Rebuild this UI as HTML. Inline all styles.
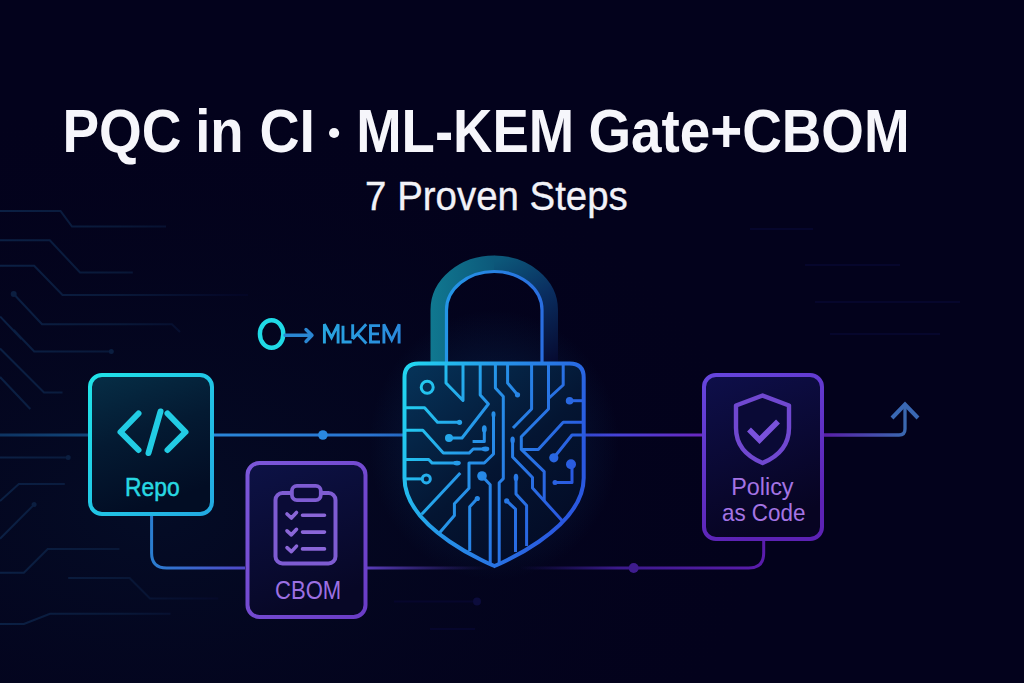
<!DOCTYPE html>
<html><head><meta charset="utf-8">
<style>
html,body{margin:0;padding:0;background:#03021c;width:1024px;height:683px;overflow:hidden}
svg{display:block}
text{font-family:"Liberation Sans",sans-serif}
</style></head>
<body>
<svg width="1024" height="683" viewBox="0 0 1024 683">
<defs>
  <radialGradient id="bgL" cx="0.15" cy="0.75" r="0.6">
    <stop offset="0" stop-color="#040c26"/>
    <stop offset="1" stop-color="#04031b" stop-opacity="0"/>
  </radialGradient>
  <radialGradient id="glowLock" cx="0.5" cy="0.5" r="0.5">
    <stop offset="0" stop-color="#0a3a6a" stop-opacity="0.55"/>
    <stop offset="1" stop-color="#0a3a6a" stop-opacity="0"/>
  </radialGradient>
  <linearGradient id="repoStroke" x1="0" y1="0" x2="1" y2="1">
    <stop offset="0" stop-color="#20e4e8"/>
    <stop offset="1" stop-color="#22a8e2"/>
  </linearGradient>
  <linearGradient id="repoFill" x1="0" y1="0" x2="0.3" y2="1">
    <stop offset="0" stop-color="#062e46"/>
    <stop offset="0.5" stop-color="#041a32"/>
    <stop offset="1" stop-color="#020d24"/>
  </linearGradient>
  <linearGradient id="cbomStroke" x1="0" y1="0" x2="1" y2="1">
    <stop offset="0" stop-color="#7c58da"/>
    <stop offset="1" stop-color="#6a3cc6"/>
  </linearGradient>
  <linearGradient id="cbomFill" x1="0" y1="0" x2="0.3" y2="1">
    <stop offset="0" stop-color="#0d1246"/>
    <stop offset="1" stop-color="#070726"/>
  </linearGradient>
  <linearGradient id="polStroke" x1="0" y1="0" x2="0.35" y2="1">
    <stop offset="0" stop-color="#6646de"/>
    <stop offset="1" stop-color="#5c22b4"/>
  </linearGradient>
  <linearGradient id="polFill" x1="0" y1="0" x2="0.3" y2="1">
    <stop offset="0" stop-color="#0e0f4a"/>
    <stop offset="1" stop-color="#070422"/>
  </linearGradient>
  <linearGradient id="lockG" gradientUnits="userSpaceOnUse" x1="404" y1="390" x2="584" y2="450">
    <stop offset="0" stop-color="#22d4f0"/>
    <stop offset="0.45" stop-color="#2692e8"/>
    <stop offset="1" stop-color="#2a58e0"/>
  </linearGradient>
  <linearGradient id="lockFill" gradientUnits="userSpaceOnUse" x1="404" y1="363" x2="560" y2="560">
    <stop offset="0" stop-color="#06345a"/>
    <stop offset="0.55" stop-color="#041532"/>
    <stop offset="1" stop-color="#030a24"/>
  </linearGradient>
  <linearGradient id="shackBand" gradientUnits="userSpaceOnUse" x1="430" y1="0" x2="561" y2="0">
    <stop offset="0" stop-color="#0f7088"/>
    <stop offset="0.5" stop-color="#0c4a70"/>
    <stop offset="1" stop-color="#0a2050"/>
  </linearGradient>
  <linearGradient id="shackLine" gradientUnits="userSpaceOnUse" x1="446" y1="0" x2="542" y2="0">
    <stop offset="0" stop-color="#2496e6"/>
    <stop offset="1" stop-color="#2a6ee0"/>
  </linearGradient>
  <linearGradient id="lineTop1" gradientUnits="userSpaceOnUse" x1="214" y1="0" x2="403" y2="0">
    <stop offset="0" stop-color="#2a86d8"/>
    <stop offset="1" stop-color="#2a70d0"/>
  </linearGradient>
  <linearGradient id="lineTop2" gradientUnits="userSpaceOnUse" x1="585" y1="0" x2="702" y2="0">
    <stop offset="0" stop-color="#3a4ce0"/>
    <stop offset="1" stop-color="#6a28c0"/>
  </linearGradient>
  <linearGradient id="lineTop3" gradientUnits="userSpaceOnUse" x1="824" y1="0" x2="905" y2="0">
    <stop offset="0" stop-color="#5a1ea8"/>
    <stop offset="1" stop-color="#3a68b0"/>
  </linearGradient>
  <linearGradient id="lineLeft" gradientUnits="userSpaceOnUse" x1="0" y1="0" x2="88" y2="0">
    <stop offset="0" stop-color="#0e3462"/>
    <stop offset="1" stop-color="#114478"/>
  </linearGradient>
  <linearGradient id="lineBotL" gradientUnits="userSpaceOnUse" x1="150" y1="0" x2="245" y2="0">
    <stop offset="0" stop-color="#2a7ed0"/>
    <stop offset="1" stop-color="#5048c8"/>
  </linearGradient>
  <linearGradient id="lineBotM" gradientUnits="userSpaceOnUse" x1="367" y1="0" x2="490" y2="0">
    <stop offset="0" stop-color="#5a3cba"/>
    <stop offset="1" stop-color="#3a2a90" stop-opacity="0"/>
  </linearGradient>
  <linearGradient id="lineBotR" gradientUnits="userSpaceOnUse" x1="520" y1="0" x2="764" y2="0">
    <stop offset="0" stop-color="#2a1a80" stop-opacity="0"/>
    <stop offset="0.4" stop-color="#3c1a8c"/>
    <stop offset="1" stop-color="#5a1cac"/>
  </linearGradient>
  <linearGradient id="bgLine" gradientUnits="userSpaceOnUse" x1="0" y1="0" x2="240" y2="0">
    <stop offset="0" stop-color="#0b2044"/>
    <stop offset="0.5" stop-color="#091838"/>
    <stop offset="1" stop-color="#040626"/>
  </linearGradient>
  <linearGradient id="mlkemG" gradientUnits="userSpaceOnUse" x1="322" y1="0" x2="400" y2="0">
    <stop offset="0" stop-color="#28a6e0"/>
    <stop offset="1" stop-color="#2a88dc"/>
  </linearGradient>
  <linearGradient id="shackBandL" gradientUnits="userSpaceOnUse" x1="430" y1="0" x2="495" y2="0">
    <stop offset="0" stop-color="#107890"/>
    <stop offset="1" stop-color="#0c587a"/>
  </linearGradient>
  <linearGradient id="shackBandR" gradientUnits="userSpaceOnUse" x1="494" y1="262" x2="556" y2="362">
    <stop offset="0" stop-color="#0c587a"/>
    <stop offset="0.45" stop-color="#0a2e60"/>
    <stop offset="1" stop-color="#060a30"/>
  </linearGradient>
  <filter id="soft" x="-50%" y="-50%" width="200%" height="200%"><feGaussianBlur stdDeviation="0.4"/></filter>
  <filter id="blur8" x="-50%" y="-50%" width="200%" height="200%"><feGaussianBlur stdDeviation="10"/></filter>
</defs>

<rect width="1024" height="683" fill="#03021c"/>
<rect width="1024" height="683" fill="url(#bgL)"/>

<!-- background faint circuits -->
<g fill="none" stroke="url(#bgLine)" stroke-width="2">
  <path d="M0 211 H60.5 L72 226.6 H166"/>
  <path d="M0 240.3 H49.8 L80 272.5 H132.8"/>
  <path d="M0 265.7 H34.2 L62.5 295 H248"/>
  <path d="M13.7 294 L42 324.3 H171.9 L180 332"/>
  <path d="M0 316.4 L21.5 339"/>
  <path d="M13.7 330 L34.2 351.5 H111.3"/>
  <path d="M0 348.5 L44 392.5 H62.5"/>
  <path d="M0 377 L30.3 409"/>
  <path d="M0 457.5 H68.2"/>
  <path d="M0 501 L18.8 484 H64.8"/>
  <path d="M0 538.7 L34.1 504.6"/>
  <path d="M0 572.8 H23.9 L47.7 549 H119.4"/>
  <path d="M68.2 578 H129.6 L150 598.4 H218.3"/>
  <path d="M0 624 H23.9 L50 613.7 H170.5"/>
</g>
<g fill="#0b1e40">
  <circle cx="13.7" cy="294" r="3"/>
  <circle cx="111.3" cy="351.5" r="2.5"/>
  <circle cx="68.2" cy="457.5" r="2.5"/>
  <circle cx="34.1" cy="504.6" r="2.5"/>
</g>

<!-- faint extras -->
<g fill="none" stroke="#06062c" stroke-width="2">
  <path d="M394 601.5 H477"/>
  <path d="M430 629 H475"/>
  <path d="M750 229 H813"/>
  <path d="M805 265 H900"/>
  <path d="M815 302 H960"/>
  <path d="M830 334 H940"/>
</g>
<circle cx="477" cy="601.5" r="4" fill="#0c0c3c"/>
<!-- Title -->
<g fill="#f6f6fb" font-size="61" font-weight="bold">
<text transform="translate(62.4 152) scale(0.9 1)">PQC</text>
<text transform="translate(195.2 152) scale(0.894 1)">in</text>
<text transform="translate(259.5 152) scale(0.909 1)">CI</text>
<text transform="translate(356.2 152) scale(0.894 1)">ML-KEM</text>
<text transform="translate(588.5 152) scale(0.898 1)">Gate+CBOM</text>
</g>
<circle cx="334.1" cy="133" r="5.1" fill="#f6f6fb"/>
<text transform="translate(365.1 209.7) scale(0.926 1)" font-size="41.5" fill="#f2f2f8" stroke="#f2f2f8" stroke-width="0.35">7 Proven Steps</text>
<!-- key icon -->
<ellipse cx="271.6" cy="334" rx="11.7" ry="13.8" fill="none" stroke="#20dae6" stroke-width="4.4"/>
<path d="M285 335.3 H311 M306 329.5 L312 335.3 L306 341.5" fill="none" stroke="#2a86d2" stroke-width="3.4" stroke-linecap="round" stroke-linejoin="round"/>
<g fill="none" stroke="url(#mlkemG)" stroke-width="2.9" stroke-linejoin="miter">
<path d="M324.4 343.4 V324.3 L331.5 337.5 L338.1 324.3 V343.4"/>
<path d="M343 325.8 V342 H351.7"/>
<path d="M352.7 324.3 V339 M352.7 339 L366.2 324.3 M357 333.5 L366.4 343.4"/>
<path d="M380 325.6 H370.5 V342 H380 M370.5 333.9 H379"/>
<path d="M383.9 343.4 V324.3 L391.7 340 L399.1 324.3 V343.4"/>
</g>

<!-- connectors -->
<path d="M0 435 H88" stroke="url(#lineLeft)" stroke-width="3" fill="none"/>
<path d="M214 435 H403" stroke="url(#lineTop1)" stroke-width="3" fill="none"/>
<circle cx="322.9" cy="435" r="4.8" fill="#2a88e0"/>
<path d="M585 435 H702" stroke="url(#lineTop2)" stroke-width="3" fill="none"/>
<path d="M824 435 H899 Q905 435 905 429 V405" stroke="url(#lineTop3)" stroke-width="3.3" fill="none"/>
<path d="M892 418 L905 404.5 L918 418" stroke="#3a68b4" stroke-width="4" fill="none"/>
<path d="M151.6 516 V553 Q151.6 568 166.6 568 H245" stroke="url(#lineBotL)" stroke-width="3" fill="none"/>
<path d="M367 568 H490" stroke="url(#lineBotM)" stroke-width="3" fill="none"/>
<path d="M520 568 H748.7 Q763.7 568 763.7 553 V541" stroke="url(#lineBotR)" stroke-width="3" fill="none"/>
<circle cx="633.7" cy="568" r="5" fill="#3e1c8e"/>

<!-- Repo box -->
<rect x="90" y="375" width="122" height="139" rx="12" fill="url(#repoFill)" stroke="url(#repoStroke)" stroke-width="4"/>
<path d="M138.5 413.5 L120.5 432 L138.5 450 M167.5 413.5 L185.5 432 L167.5 450 M160.5 411.5 L148.5 453" fill="none" stroke="#22cce4" stroke-width="6" stroke-linecap="round" stroke-linejoin="round"/>
<text transform="translate(125.1 495.6) scale(0.886 1)" font-size="25.8" fill="#28d8e2" stroke="#28d8e2" stroke-width="0.5">Repo</text>

<!-- CBOM box -->
<rect x="247.5" y="463" width="118" height="154" rx="12" fill="url(#cbomFill)" stroke="url(#cbomStroke)" stroke-width="4"/>
<rect x="275.5" y="493" width="60" height="70.5" rx="7" fill="#0a0b36" stroke="#7e5cd2" stroke-width="4"/>
<rect x="291.9" y="485.8" width="28.9" height="14.3" rx="5" fill="#0a0b36" stroke="#7e5cd2" stroke-width="3.8"/>
<g fill="none" stroke="#8a66d8" stroke-width="3.6" stroke-linecap="round" stroke-linejoin="round">
  <path d="M287 514 L291.4 518 L296.5 512.5 M302.5 515.3 H324.5"/>
  <path d="M287 530.8 L291.4 534.8 L296.5 529.3 M302.5 532.1 H324.5"/>
  <path d="M287 547.6 L291.4 551.6 L296.5 546.1 M302.5 548.9 H324.5"/>
</g>
<text transform="translate(275 599.4) scale(0.85 1)" font-size="26" fill="#9c70e2">CBOM</text>

<!-- Policy box -->
<rect x="704" y="375" width="118" height="164" rx="12" fill="url(#polFill)" stroke="url(#polStroke)" stroke-width="4"/>
<path d="M762.6 395.5 L789 405.5 V428 Q789 452 762.6 463 Q736 452 736 428 V405.5 Z" fill="#0a0a36" stroke="#7048d0" stroke-width="4.4" stroke-linejoin="round"/>
<path d="M749 429.5 L759.5 440 L778 421.5" fill="none" stroke="#7a52dc" stroke-width="5.5"/>
<text transform="translate(731.2 494.9) scale(0.943 1)" font-size="24.8" fill="#a474e4">Policy</text>
<text transform="translate(721.9 520.8) scale(0.905 1)" font-size="24.8" fill="#a474e4">as Code</text>

<!-- lock glow -->
<ellipse cx="494" cy="445" rx="125" ry="135" fill="url(#glowLock)"/>

<!-- shackle -->
<path d="M438.5 363 V310 A55.75 46.5 0 0 1 494.25 263.5" fill="none" stroke="url(#shackBandL)" stroke-width="16"/>
<path d="M494 263.5 A55.75 46.5 0 0 1 550 310 V363" fill="none" stroke="url(#shackBandR)" stroke-width="16"/>
<path d="M446.5 363 V310 A47.75 38.5 0 0 1 542 310 V363" fill="none" stroke="url(#shackLine)" stroke-width="3.2"/>

<!-- lock body -->
<path id="body" d="M418.5 363.5 H569.7 Q583.7 363.5 583.7 377.5 V478 C583.7 530 494.5 566 494.5 566 C494.5 566 404.5 530 404.5 478 V377.5 Q404.5 363.5 418.5 363.5 Z" fill="url(#lockFill)" stroke="url(#lockG)" stroke-width="4"/>

<g fill="none" stroke="url(#lockG)" stroke-width="3" stroke-linejoin="round">
  <path d="M446 363 V383 L463 400.5 V363"/>
  <path d="M480.2 363 V395 L488.4 404 L462 438 H449"/>
  <path d="M495.4 363 V388 L503.3 396.6 V478.6 L499.2 482.7 V563"/>
  <path d="M507.6 363 V383 L517.5 394.8"/>
  <path d="M531.6 363 V409 L513 428"/>
  <path d="M548.5 363 V409 L521.3 436.7 V449.4 L544.2 471.6 V501"/>
  <path d="M563.2 363 V385 L549 398"/>
  <circle cx="427.2" cy="387.2" r="6"/>
  <path d="M404.5 407.7 H424.6 L437.5 422.3 H459"/>
  <path d="M404.5 430.3 H422.8 L443.3 453.1 H469.1 L473.2 449 H483"/>
  <path d="M472.6 441.4 H484.3 V431"/>
  <path d="M404.5 459.5 H428.7 L432.2 463.1 H455"/>
  <path d="M404.5 478.9 H422"/>
  <circle cx="426.3" cy="478.9" r="4"/>
  <path d="M460.3 473 L421.7 514.3"/>
  <path d="M493.5 413.5 V454 L484.3 463 H469 V488.2 L454.4 503.8 V515.5 L439.8 532.5"/>
  <path d="M482 476 L490.2 484.7 V563"/>
  <path d="M477.3 498.5 L469.7 506.7 V551"/>
  <path d="M569.6 400.7 H583.7"/>
  <path d="M583.7 422.3 H563.2 L538.3 449.4 H521.3"/>
  <path d="M583.7 435 H572 L553.8 457.8"/>
  <path d="M572 464.2 V482.4 H555"/>
  <path d="M512.6 439 V457 L532.5 477.5 V488 L562 520.5"/>
  <path d="M516 476.3 V493.9 L526.6 505.6 V546"/>
  <path d="M506.7 500.9 L515.5 509 V552"/>
</g>
<g fill="url(#lockG)">
  <circle cx="449" cy="438" r="4"/>
  <circle cx="459.5" cy="422.3" r="2.6"/>
  <circle cx="517.5" cy="394.8" r="2.6"/>
  <circle cx="482" cy="476" r="4.8"/>
  <circle cx="569.6" cy="400.7" r="3.8"/>
  <circle cx="553.8" cy="457.8" r="4.6"/>
  <circle cx="571" cy="464.2" r="5"/>
  <circle cx="555" cy="482.4" r="2.5"/>
  <circle cx="477.3" cy="498.5" r="2.6"/>
  <circle cx="506.7" cy="500.9" r="2.6"/>
  <ellipse cx="516" cy="477.5" rx="2.3" ry="3.8"/>
  <ellipse cx="512.6" cy="440" rx="2.2" ry="3.6"/>
  <ellipse cx="493.5" cy="414.5" rx="2" ry="3.2"/>
  <ellipse cx="485.5" cy="449" rx="3.8" ry="2.4"/>
  <ellipse cx="457" cy="463.1" rx="3.8" ry="2.4"/>
  <ellipse cx="484.3" cy="429" rx="2.4" ry="3.8"/>
</g>
</svg>
</body></html>
